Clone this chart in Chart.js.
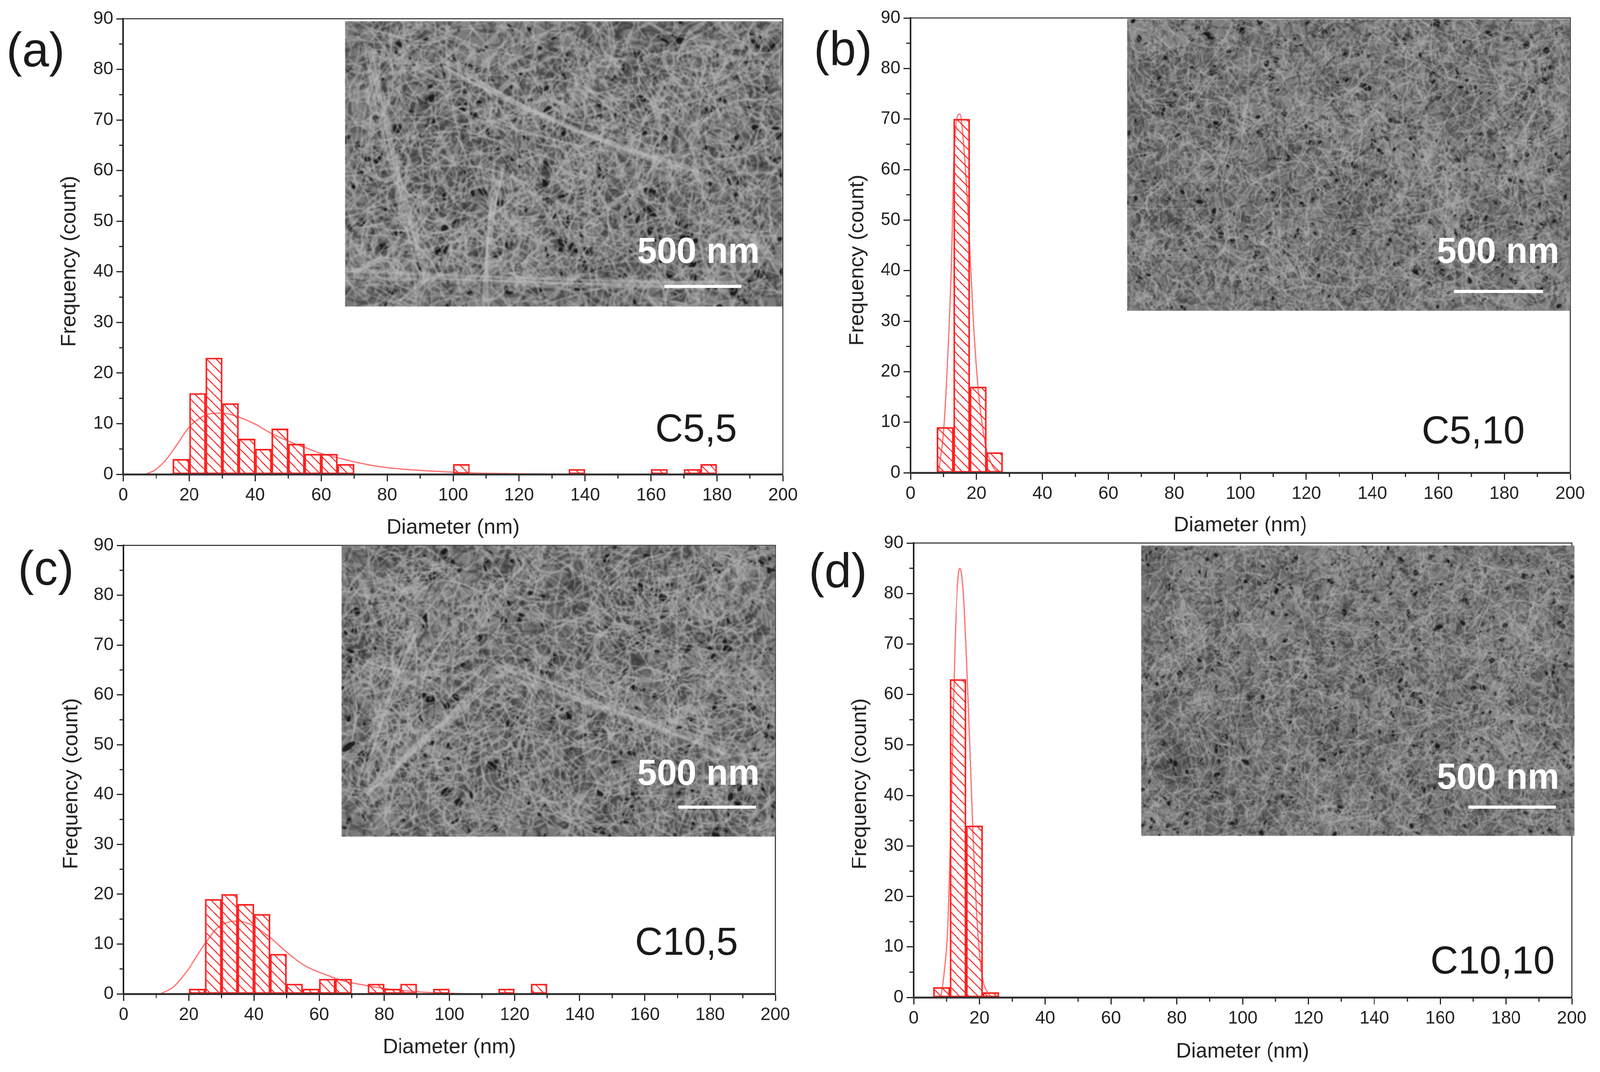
<!DOCTYPE html>
<html>
<head>
<meta charset="utf-8">
<title>Diameter histograms</title>
<script src="https://cdn.jsdelivr.net/npm/chart.js@4"></script>
<style>
  html, body { margin: 0; padding: 0; background: #fff; overflow: hidden; }
  #page { position: relative; width: 4142px; height: 2744px; overflow: hidden; transform-origin: 0 0; }
  canvas { position: absolute; }
</style>
</head>
<body>
<div id="page"></div>
<script>
// Histogram bins (bin centre, nm) and counts
const binsA = [17.5, 22.5, 27.5, 32.5, 37.5, 42.5, 47.5, 52.5, 57.5, 62.5, 67.5, 102.5, 137.5, 162.5, 172.5, 177.5];
const countsA = [3, 16, 23, 14, 7, 5, 9, 6, 4, 4, 2, 2, 1, 1, 1, 2];
const binsB = [10.5, 15.5, 20.5, 25.5];
const countsB = [9, 70, 17, 4];
const binsC = [22.5, 27.5, 32.5, 37.5, 42.5, 47.5, 52.5, 57.5, 62.5, 67.5, 77.5, 82.5, 87.5, 97.5, 117.5, 127.5];
const countsC = [1, 19, 20, 18, 16, 8, 2, 1, 3, 3, 2, 1, 2, 1, 1, 2];
const binsD = [8.5, 13.5, 18.5, 23.5];
const countsD = [2, 63, 34, 1];

// Fit curves
const curveXA = [6.6, 9.5, 12.8, 16, 19.8, 23.5, 26.7, 30, 35, 40, 44.9, 49.8, 55.1, 60, 65.4, 70.4, 77.8, 86, 91.6, 100, 110, 120, 130, 140];
const curveYA = [0, 0.8, 2.7, 5.6, 9.2, 11.2, 12, 12.1, 11.3, 9.9, 8.1, 6.6, 5.3, 4.1, 3.2, 2.4, 1.5, 0.95, 0.7, 0.4, 0.2, 0.1, 0.05, 0.02];
const curveXB = [8.5, 10.1, 11.4, 12.4, 13.2, 15, 16.4, 17.7, 19, 20.5, 22.6, 25, 27.1];
const curveYB = [0, 8.9, 24.9, 42, 63.9, 71, 62.8, 48.5, 30.8, 16.6, 5.9, 1.2, 0];
const curveXC = [11.3, 15.3, 19.8, 24.9, 28.9, 34.6, 39.1, 44.8, 50.5, 56.1, 61.8, 67.5, 74.3, 81, 87.9, 94.7, 102.6, 109.4];
const curveYC = [0, 1.4, 4.9, 10, 13.3, 14.6, 13.9, 11.4, 8.1, 5.5, 3.9, 2.6, 1.7, 1, 0.55, 0.25, 0.07, 0.02];
const curveXD = [8.3, 9.3, 10.4, 11.4, 12.4, 13.2, 14.1, 15.1, 16.1, 17.2, 18.2, 19.5, 20.8, 22.4, 24];
const curveYD = [0, 5, 14.3, 36, 66, 80, 85, 80.5, 67, 48, 30, 12.9, 4.3, 1, 0];

const minorXTicks = [10, 30, 50, 70, 90, 110, 130, 150, 170, 190];
const minorYTicks = [5, 15, 25, 35, 45, 55, 65, 75, 85];

const RED = '#ff2020';
const INK = '#222222';
const FONT = '"Liberation Sans", Arial, sans-serif';

// Page layout, all in page pixels
const panels = [
  {
    letter: '(a)', letterX: 92, letterY: 136, sample: 'C5,5', sampleX: 1802, sampleY: 1102,
    bins: binsA, counts: countsA, curveX: curveXA, curveY: curveYA,
    canvas: { x: 0, y: 0, w: 2140, h: 1400 }, plot: { left: 319, top: 48, right: 2027, bottom: 1214 },
    yTitleGap: 139, xTitleGap: 138, yTitleShift: 38,
    image: { x: 893, y: 54, w: 1132, h: 731, seed: 11, fibres: 1.5,
      bundles: [[0, 640, 1000, 680], [400, 380, 370, 731], [260, 110, 900, 380], [60, 60, 200, 640]] },
    scaleText: { x: 1808, y: 648 }, scaleBar: { x: 1720, y: 729, w: 199, h: 8 }
  },
  {
    letter: '(b)', letterX: 2182, letterY: 133, sample: 'C5,10', sampleX: 3814, sampleY: 1107,
    bins: binsB, counts: countsB, curveX: curveXB, curveY: curveYB,
    canvas: { x: 2100, y: 0, w: 2042, h: 1400 }, plot: { left: 2357, top: 46, right: 4065, bottom: 1210 },
    yTitleGap: 137, xTitleGap: 136, yTitleShift: 38,
    image: { x: 2917, y: 48, w: 1148, h: 748, seed: 23, fibres: 1, bundles: [] },
    scaleText: { x: 3878, y: 648 }, scaleBar: { x: 3764, y: 742, w: 230, h: 8 }
  },
  {
    letter: '(c)', letterX: 119, letterY: 1463, sample: 'C10,5', sampleX: 1777, sampleY: 2416,
    bins: binsC, counts: countsC, curveX: curveXC, curveY: curveYC,
    canvas: { x: 0, y: 1350, w: 2140, h: 1394 }, plot: { left: 320, top: 1396, right: 2007, bottom: 2544 },
    yTitleGap: 135, xTitleGap: 138, yTitleShift: 36,
    image: { x: 884, y: 1396, w: 1123, h: 746, seed: 37, fibres: 1.4,
      bundles: [[60, 640, 420, 320], [420, 320, 1000, 520], [200, 200, 60, 600]] },
    scaleText: { x: 1808, y: 1984 }, scaleBar: { x: 1756, y: 2062, w: 201, h: 8 }
  },
  {
    letter: '(d)', letterX: 2169, letterY: 1469, sample: 'C10,10', sampleX: 3864, sampleY: 2464,
    bins: binsD, counts: countsD, curveX: curveXD, curveY: curveYD,
    canvas: { x: 2100, y: 1350, w: 2042, h: 1394 }, plot: { left: 2365, top: 1390, right: 4069, bottom: 2553 },
    yTitleGap: 138, xTitleGap: 140, yTitleShift: 35,
    image: { x: 2954, y: 1396, w: 1122, h: 744, seed: 51, fibres: 0.9, bundles: [] },
    scaleText: { x: 3878, y: 1994 }, scaleBar: { x: 3801, y: 2062, w: 227, h: 8 }
  }
];

function hatchPattern() {
  const size = 24;
  const tile = document.createElement('canvas');
  tile.width = size;
  tile.height = size;
  const c = tile.getContext('2d');
  c.strokeStyle = RED;
  c.lineWidth = 2.6;
  [-size, 0, size].forEach((dx) => {
    c.beginPath();
    c.moveTo(dx, 0);
    c.lineTo(dx + size, size);
    c.stroke();
  });
  return document.createElement('canvas').getContext('2d').createPattern(tile, 'repeat');
}

// The SEM photographs are not data: a seeded fibre texture stands in for each one
function micrograph(img) {
  const raw = document.createElement('canvas');
  raw.width = img.w;
  raw.height = img.h;
  const c = raw.getContext('2d');
  let state = img.seed;
  const rnd = () => {
    state = (state * 1664525 + 1013904223) % 4294967296;
    return state / 4294967296;
  };
  c.fillStyle = '#7a7a7a';
  c.fillRect(0, 0, img.w, img.h);
  c.lineCap = 'round';

  for (let i = 0; i < 90; i++) {
    c.fillStyle = rnd() < 0.5 ? 'rgba(45,45,45,0.09)' : 'rgba(175,175,175,0.08)';
    c.beginPath();
    c.ellipse(rnd() * img.w, rnd() * img.h, 40 + rnd() * 110, 30 + rnd() * 80, rnd() * 3, 0, Math.PI * 2);
    c.fill();
  }
  const fibre = (len, width, colour) => {
    const x = rnd() * img.w, y = rnd() * img.h, a = rnd() * Math.PI * 2;
    const bend = (rnd() - 0.5) * len * 1.2;
    c.strokeStyle = colour;
    c.lineWidth = width;
    c.beginPath();
    c.moveTo(x, y);
    c.quadraticCurveTo(
      x + Math.cos(a) * len * 0.5 - Math.sin(a) * bend,
      y + Math.sin(a) * len * 0.5 + Math.cos(a) * bend,
      x + Math.cos(a) * len, y + Math.sin(a) * len);
    c.stroke();
  };
  const k = img.fibres;
  for (let i = 0; i < 3000 / k; i++) fibre((20 + rnd() * 45) * k, 5 * k, 'rgba(50,50,50,0.32)');
  c.fillStyle = 'rgba(15,15,15,0.85)';
  for (let i = 0; i < 420 / k; i++) {
    c.beginPath();
    c.ellipse(rnd() * img.w, rnd() * img.h, (3 + rnd() * rnd() * 13) * k, (2 + rnd() * rnd() * 9) * k, rnd() * 3, 0, Math.PI * 2);
    c.fill();
  }
  for (let i = 0; i < 3600 / k; i++) fibre((20 + rnd() * 50) * k, 3.4 * k, 'rgba(178,178,178,0.40)');
  for (let i = 0; i < 140 / k; i++) fibre((100 + rnd() * 200) * k, 3.6 * k, 'rgba(190,190,190,0.36)');

  // the few thick bundles that stand out in the photographs
  img.bundles.forEach(([x1, y1, x2, y2]) => {
    const midX = (x1 + x2) / 2 + (rnd() - 0.5) * 90, midY = (y1 + y2) / 2 + (rnd() - 0.5) * 90;
    for (let i = 0; i < 8; i++) {
      c.strokeStyle = 'rgba(195,195,195,0.24)';
      c.lineWidth = 6;
      c.beginPath();
      c.moveTo(x1 + (rnd() - 0.5) * 34, y1 + (rnd() - 0.5) * 34);
      c.quadraticCurveTo(midX + (rnd() - 0.5) * 30, midY + (rnd() - 0.5) * 30, x2 + (rnd() - 0.5) * 34, y2 + (rnd() - 0.5) * 34);
      c.stroke();
    }
  });

  const soft = document.createElement('canvas');
  soft.width = img.w;
  soft.height = img.h;
  const s = soft.getContext('2d');
  s.filter = 'blur(1.6px)';
  s.drawImage(raw, 0, 0);
  return soft;
}

// Minor ticks, frame, y title, photograph and the text on top of it
const overlay = {
  id: 'overlay',
  afterDraw(chart, args, opts) {
    const p = opts.panel;
    const { ctx, chartArea, scales } = chart;
    const ox = p.canvas.x, oy = p.canvas.y;
    ctx.save();

    ctx.strokeStyle = INK;
    ctx.lineWidth = 3;
    minorXTicks.forEach((v) => {
      const x = scales.x.getPixelForValue(v);
      ctx.beginPath();
      ctx.moveTo(x, chartArea.bottom);
      ctx.lineTo(x, chartArea.bottom + 11);
      ctx.stroke();
    });
    minorYTicks.forEach((v) => {
      const y = scales.y.getPixelForValue(v);
      ctx.beginPath();
      ctx.moveTo(chartArea.left, y);
      ctx.lineTo(chartArea.left - 11, y);
      ctx.stroke();
    });
    ctx.lineWidth = 2.5;
    ctx.beginPath();
    ctx.moveTo(chartArea.left, chartArea.top);
    ctx.lineTo(chartArea.right, chartArea.top);
    ctx.lineTo(chartArea.right, chartArea.bottom);
    ctx.stroke();

    ctx.textAlign = 'center';
    ctx.textBaseline = 'middle';

    // the y title sits a little below the middle of the axis in the original
    ctx.save();
    ctx.translate(chartArea.left - p.yTitleGap, (chartArea.top + chartArea.bottom) / 2 + p.yTitleShift);
    ctx.rotate(-Math.PI / 2);
    ctx.fillStyle = INK;
    ctx.font = '54px ' + FONT;
    ctx.fillText('Frequency (count)', 0, 0);
    ctx.restore();

    ctx.drawImage(micrograph(p.image), p.image.x - ox, p.image.y - oy);

    ctx.fillStyle = '#ffffff';
    ctx.fillRect(p.scaleBar.x - ox, p.scaleBar.y - oy, p.scaleBar.w, p.scaleBar.h);
    ctx.font = 'bold 92px ' + FONT;
    ctx.fillText('500 nm', p.scaleText.x - ox, p.scaleText.y - oy);

    ctx.fillStyle = '#1a1a1a';
    ctx.font = '124px ' + FONT;
    ctx.fillText(p.letter, p.letterX - ox, p.letterY - oy);
    ctx.font = '100px ' + FONT;
    ctx.fillText(p.sample, p.sampleX - ox, p.sampleY - oy);
    ctx.restore();
  }
};

const hatch = hatchPattern();
const page = document.getElementById('page');

// The window can be narrower than the 4142 px layout, so squeeze the page to fit
page.style.transform = 'scaleX(' + Math.min(1, window.innerWidth / 4142) + ')';

panels.forEach((p) => {
  const canvas = document.createElement('canvas');
  canvas.width = p.canvas.w;
  canvas.height = p.canvas.h;
  canvas.style.left = p.canvas.x + 'px';
  canvas.style.top = p.canvas.y + 'px';
  canvas.style.width = p.canvas.w + 'px';
  canvas.style.height = p.canvas.h + 'px';
  page.appendChild(canvas);

  const yAxisWidth = p.yTitleGap;
  const xAxisHeight = p.xTitleGap + 32;

  new Chart(canvas, {
    type: 'bar',
    data: {
      datasets: [
        {
          type: 'line',
          label: 'Fit',
          data: p.curveX.map((x, i) => ({ x, y: p.curveY[i] })),
          borderColor: 'rgba(255,40,40,0.65)',
          borderWidth: 3.2,
          pointRadius: 0,
          cubicInterpolationMode: 'monotone'
        },
        {
          label: 'Count',
          data: p.bins.map((x, i) => ({ x, y: p.counts[i] })),
          backgroundColor: hatch,
          borderColor: RED,
          borderWidth: 3.5,
          borderSkipped: false,
          barPercentage: 1,
          categoryPercentage: 1
        }
      ]
    },
    options: {
      responsive: false,
      animation: false,
      devicePixelRatio: 1,
      layout: {
        padding: {
          left: p.plot.left - p.canvas.x - yAxisWidth,
          top: p.plot.top - p.canvas.y,
          right: p.canvas.x + p.canvas.w - p.plot.right,
          bottom: p.canvas.y + p.canvas.h - p.plot.bottom - xAxisHeight
        }
      },
      plugins: {
        legend: { display: false },
        tooltip: { enabled: false },
        overlay: { panel: p }
      },
      scales: {
        x: {
          type: 'linear',
          min: 0,
          max: 200,
          offset: false,
          afterFit: (scale) => { scale.height = xAxisHeight; },
          border: { color: '#333333', width: 5, z: 1 },
          grid: { offset: false, drawOnChartArea: false, tickLength: 18, tickWidth: 3, tickColor: INK },
          ticks: { stepSize: 20, autoSkip: false, maxRotation: 0, padding: 9, color: INK, font: { family: FONT, size: 46 } },
          title: { display: true, text: 'Diameter (nm)', color: INK, padding: 0, font: { family: FONT, size: 54 } }
        },
        y: {
          min: 0,
          max: 90,
          afterFit: (scale) => { scale.width = yAxisWidth; },
          border: { color: INK, width: 4 },
          grid: { drawOnChartArea: false, tickLength: 18, tickWidth: 3, tickColor: INK },
          ticks: { stepSize: 10, autoSkip: false, padding: 8, color: INK, font: { family: FONT, size: 46 } }
        }
      }
    },
    plugins: [overlay]
  });
});
</script>
</body>
</html>
